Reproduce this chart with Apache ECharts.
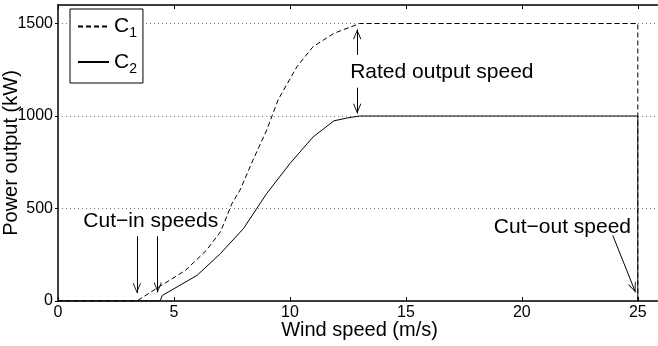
<!DOCTYPE html>
<html>
<head>
<meta charset="utf-8">
<style>
  html, body { margin: 0; padding: 0; background: #fff; }
  #chart { width: 658px; height: 346px; }
</style>
<script src="https://cdn.jsdelivr.net/npm/echarts@6/dist/echarts.min.js"></script>
</head>
<body>
<div id="chart"></div>
<script>
// Power curves of two wind turbines (C1 rated 1500 kW, C2 rated 1000 kW)
const seriesNames = ['C1', 'C2'];

const windC1  = [0, 3.4, 4.3, 5.5, 6.4, 7.0, 7.3, 7.5, 7.85, 8.4, 9.0, 9.5, 10.3, 11.0, 11.9, 12.9, 13.0, 25.0, 25.0];
const powerC1 = [0, 0,   72,  166, 274, 373, 464, 527, 600,  760, 924, 1090, 1266, 1375, 1447, 1495, 1500, 1500, 0];

const windC2  = [0, 4.4, 4.5, 6.0, 7.0, 8.0, 9.0, 10.0, 11.0, 11.9, 12.5, 13.0, 25.0, 25.0];
const powerC2 = [0, 0,   30,  139, 256, 392, 581, 743,  887,  974,  990,  1000, 1000, 0];

// axis ranges and tick steps
const xRange = [0, 26];
const xStep = 5;
const yRange = [0, 1600];
const yStep = 500;

// annotation texts with their anchor points (wind speed, power)
const noteTexts  = ['Cut\u2212in speeds', 'Rated output speed', 'Cut\u2212out speed'];
const noteWind   = [4.0, 16.55, 21.75];
const notePower  = [433, 1237, 399];

// arrows: start and tip, in (wind speed, power)
const arrowFromWind  = [3.4, 4.3, 12.9, 12.9, 23.92];
const arrowFromPower = [350, 350, 1330, 1153, 355];
const arrowToWind    = [3.4, 4.3, 12.9, 12.9, 24.9];
const arrowToPower   = [43,  47,  1468, 1014, 47];

const FONT = '"Liberation Sans", Arial, Helvetica, sans-serif';
const pairs = (xs, ys) => xs.map((x, i) => [x, ys[i]]);

// open arrow head, tip pointing up in its own frame
const chevron = 'path://M0,0 L5,10 L4.1,10.6 L0,2.2 L-4.1,10.6 L-5,10 Z';

const chart = echarts.init(document.getElementById('chart'), null, { renderer: 'canvas' });

const option = {
  animation: false,
  backgroundColor: '#fff',
  textStyle: { fontFamily: FONT },
  grid: { left: 58, top: 5, right: -3, bottom: 45, outerBoundsMode: 'none', containLabel: false },
  legend: {
    data: seriesNames,
    orient: 'vertical',
    left: 70,
    top: 9,
    backgroundColor: '#fff',
    borderColor: '#000',
    borderWidth: 1,
    borderRadius: 0,
    padding: [7, 6, 7, 7],
    itemWidth: 31,
    itemHeight: 14,
    itemGap: 11,
    selectedMode: false,
    itemStyle: { color: 'rgba(0,0,0,0)', borderWidth: 0, opacity: 0 },
    formatter: name => '{c|' + name.charAt(0) + '}{s|' + name.slice(1) + '}',
    textStyle: {
      color: '#000',
      fontFamily: FONT,
      rich: {
        c: { fontSize: 21, fontFamily: FONT, color: '#000' },
        s: { fontSize: 14, fontFamily: FONT, color: '#000', padding: [14, 0, 0, 0] }
      }
    }
  },
  xAxis: [
    {
      type: 'value',
      min: xRange[0], max: xRange[1], interval: xStep,
      position: 'bottom',
      name: 'Wind speed (m/s)',
      nameLocation: 'middle',
      nameGap: 19,
      nameMoveOverlap: false,
      nameTextStyle: { fontSize: 20, color: '#000', fontFamily: FONT },
      axisLine: { show: true, onZero: false, lineStyle: { color: '#000', width: 1.5 } },
      axisTick: { show: true, inside: true, length: 4, lineStyle: { color: '#000', width: 1 } },
      axisLabel: { color: '#000', fontSize: 16, margin: 4, showMaxLabel: false, fontFamily: FONT },
      splitLine: { show: false }
    },
    {
      type: 'value',
      min: xRange[0], max: xRange[1], interval: xStep,
      position: 'top',
      axisLine: { show: true, onZero: false, lineStyle: { color: '#000', width: 1.5 } },
      axisTick: { show: true, inside: true, length: 4, lineStyle: { color: '#000', width: 1 } },
      axisLabel: { show: false },
      splitLine: { show: false }
    }
  ],
  yAxis: {
    type: 'value',
    min: yRange[0], max: yRange[1], interval: yStep,
    name: 'Power output (kW)',
    nameLocation: 'middle',
    nameGap: 37,
    nameMoveOverlap: false,
    nameTextStyle: { fontSize: 20, color: '#000', fontFamily: FONT },
    axisLine: { show: true, onZero: false, lineStyle: { color: '#000', width: 1.5 } },
    axisTick: { show: true, inside: false, length: 3, lineStyle: { color: '#000', width: 1 } },
    axisLabel: {
      color: '#000', fontSize: 16, margin: 5, showMaxLabel: false, fontFamily: FONT,
      formatter: v => String(v)
    },
    splitLine: { show: true, lineStyle: { color: '#7a7a7a', width: 1, type: [1, 3] } }
  },
  series: [
    {
      name: seriesNames[0],
      type: 'line',
      xAxisIndex: 0,
      data: pairs(windC1, powerC1),
      symbol: 'none',
      smooth: false,
      color: '#000',
      lineStyle: { color: '#000', width: 1, type: [5, 3] },
      silent: true,
      z: 3
    },
    {
      name: seriesNames[1],
      type: 'line',
      xAxisIndex: 0,
      data: pairs(windC2, powerC2),
      symbol: 'none',
      smooth: false,
      color: '#000',
      lineStyle: { color: '#000', width: 1, type: 'solid' },
      silent: true,
      z: 3,
      markLine: {
        silent: true,
        animation: false,
        symbol: ['none', chevron],
        symbolSize: [8, 10],
        symbolOffset: [0, [0, 5]],
        label: { show: false },
        lineStyle: { color: '#000', width: 1, type: 'solid' },
        itemStyle: { color: '#000' },
        emphasis: { disabled: true },
        data: arrowFromWind.map((w, i) => [
          { coord: [w, arrowFromPower[i]] },
          { coord: [arrowToWind[i], arrowToPower[i]] }
        ])
      },
      markPoint: {
        silent: true,
        animation: false,
        symbol: 'circle',
        symbolSize: 0,
        label: {
          show: true,
          position: 'inside',
          color: '#000',
          fontSize: 21,
          fontFamily: FONT,
          formatter: p => p.name
        },
        data: noteTexts.map((t, i) => ({ name: t, coord: [noteWind[i], notePower[i]] }))
      }
    }
  ]
};

chart.setOption(option);
</script>
</body>
</html>
